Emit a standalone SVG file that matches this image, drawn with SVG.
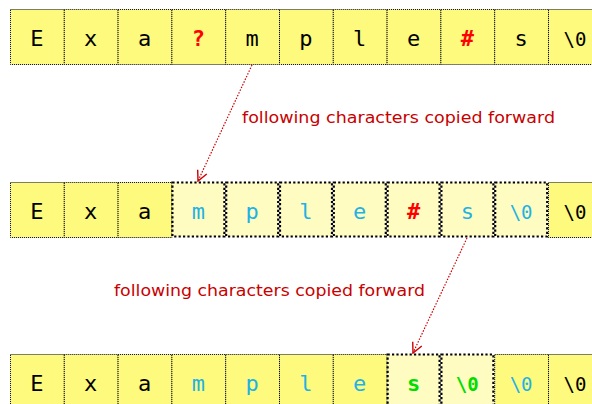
<svg xmlns="http://www.w3.org/2000/svg" width="592" height="404" viewBox="0 0 592 404">
  <style>
    .cell { fill: #fdfa7d; stroke: #000; stroke-width: 1; stroke-dasharray: 1 1; }
    .hl { fill: #fefcc0; stroke: #000; stroke-width: 2.2; stroke-dasharray: 2.2 2.2; }
    .ch { font-family: "DejaVu Sans Mono", monospace; font-size: 22px; text-anchor: middle; fill: #000; }
    .nul { font-size: 19px; }
    .blue { fill: #1fb2e6; }
    .red { fill: #ff0000; font-weight: bold; }
    .green { fill: #00dd00; font-weight: bold; }
    .lbl { font-family: "Comic Sans MS", "DejaVu Sans", sans-serif; font-size: 16px; fill: #c80000; }
    .conn { fill: none; stroke: #cc0000; stroke-width: 1.2; stroke-dasharray: 1.5 1.5; }
  </style>
  <defs>
    <marker id="arrow" viewBox="0 0 12 12" refX="11" refY="6" markerWidth="12" markerHeight="12" markerUnits="userSpaceOnUse" orient="auto">
      <path d="M1,1 L11,6 L1,11" fill="none" stroke="#cc0000" stroke-width="1.4"/>
    </marker>
  </defs>

  <!-- Row 1: original string -->
  <g id="row1">
    <rect class="cell" x="10.5" y="9.5" width="53.8" height="55"/>
    <rect class="cell" x="64.3" y="9.5" width="53.8" height="55"/>
    <rect class="cell" x="118.1" y="9.5" width="53.8" height="55"/>
    <rect class="cell" x="171.9" y="9.5" width="53.8" height="55"/>
    <rect class="cell" x="225.7" y="9.5" width="53.8" height="55"/>
    <rect class="cell" x="279.5" y="9.5" width="53.8" height="55"/>
    <rect class="cell" x="333.3" y="9.5" width="53.8" height="55"/>
    <rect class="cell" x="387.1" y="9.5" width="53.8" height="55"/>
    <rect class="cell" x="440.9" y="9.5" width="53.8" height="55"/>
    <rect class="cell" x="494.7" y="9.5" width="53.8" height="55"/>
    <rect class="cell" x="548.5" y="9.5" width="53.8" height="55"/>
    <text class="ch" x="36.9" y="46">E</text>
    <text class="ch" x="90.7" y="46">x</text>
    <text class="ch" x="144.5" y="46">a</text>
    <text class="ch red" x="198.3" y="46">?</text>
    <text class="ch" x="252.1" y="46">m</text>
    <text class="ch" x="305.9" y="46">p</text>
    <text class="ch" x="359.7" y="46">l</text>
    <text class="ch" x="413.5" y="46">e</text>
    <text class="ch red" x="467.3" y="46">#</text>
    <text class="ch" x="521.1" y="46">s</text>
    <text class="ch nul" x="574.9" y="46">\0</text>
  </g>

  <!-- Row 2: characters after the first shift -->
  <g id="row2">
    <rect class="cell" x="10.5" y="182.5" width="53.8" height="55"/>
    <rect class="cell" x="64.3" y="182.5" width="53.8" height="55"/>
    <rect class="cell" x="118.1" y="182.5" width="53.8" height="55"/>
    <rect class="hl" x="172.4" y="182.5" width="52" height="54"/>
    <rect class="hl" x="226.2" y="182.5" width="52" height="54"/>
    <rect class="hl" x="280" y="182.5" width="52" height="54"/>
    <rect class="hl" x="333.8" y="182.5" width="52" height="54"/>
    <rect class="hl" x="387.6" y="182.5" width="52" height="54"/>
    <rect class="hl" x="441.4" y="182.5" width="52" height="54"/>
    <rect class="hl" x="495.2" y="182.5" width="52" height="54"/>
    <rect class="cell" x="548.5" y="182.5" width="53.8" height="55"/>
    <text class="ch" x="36.9" y="219">E</text>
    <text class="ch" x="90.7" y="219">x</text>
    <text class="ch" x="144.5" y="219">a</text>
    <text class="ch blue" x="198.3" y="219">m</text>
    <text class="ch blue" x="252.1" y="219">p</text>
    <text class="ch blue" x="305.9" y="219">l</text>
    <text class="ch blue" x="359.7" y="219">e</text>
    <text class="ch red" x="413.5" y="219">#</text>
    <text class="ch blue" x="467.3" y="219">s</text>
    <text class="ch blue nul" x="521.1" y="219">\0</text>
    <text class="ch nul" x="574.9" y="219">\0</text>
  </g>

  <!-- Row 3: characters after the second shift -->
  <g id="row3">
    <rect class="cell" x="10.5" y="354.5" width="53.8" height="55"/>
    <rect class="cell" x="64.3" y="354.5" width="53.8" height="55"/>
    <rect class="cell" x="118.1" y="354.5" width="53.8" height="55"/>
    <rect class="cell" x="171.9" y="354.5" width="53.8" height="55"/>
    <rect class="cell" x="225.7" y="354.5" width="53.8" height="55"/>
    <rect class="cell" x="279.5" y="354.5" width="53.8" height="55"/>
    <rect class="cell" x="333.3" y="354.5" width="53.8" height="55"/>
    <rect class="hl" x="387.6" y="354.5" width="52" height="54"/>
    <rect class="hl" x="441.4" y="354.5" width="52" height="54"/>
    <rect class="cell" x="494.7" y="354.5" width="53.8" height="55"/>
    <rect class="cell" x="548.5" y="354.5" width="53.8" height="55"/>
    <text class="ch" x="36.9" y="391">E</text>
    <text class="ch" x="90.7" y="391">x</text>
    <text class="ch" x="144.5" y="391">a</text>
    <text class="ch blue" x="198.3" y="391">m</text>
    <text class="ch blue" x="252.1" y="391">p</text>
    <text class="ch blue" x="305.9" y="391">l</text>
    <text class="ch blue" x="359.7" y="391">e</text>
    <text class="ch green" x="413.5" y="391">s</text>
    <text class="ch green nul" x="467.3" y="391">\0</text>
    <text class="ch blue nul" x="521.1" y="391">\0</text>
    <text class="ch nul" x="574.9" y="391">\0</text>
  </g>

  <!-- Connectors -->
  <g id="connectors">
    <line class="conn" x1="252" y1="65" x2="198" y2="181" marker-end="url(#arrow)"/>
    <line class="conn" x1="467" y1="238" x2="413" y2="353" marker-end="url(#arrow)"/>
  </g>

  <!-- Labels -->
  <g id="labels">
    <text class="lbl" x="242" y="123" textLength="313" lengthAdjust="spacingAndGlyphs">following characters copied forward</text>
    <text class="lbl" x="114" y="296" textLength="311" lengthAdjust="spacingAndGlyphs">following characters copied forward</text>
  </g>
</svg>
